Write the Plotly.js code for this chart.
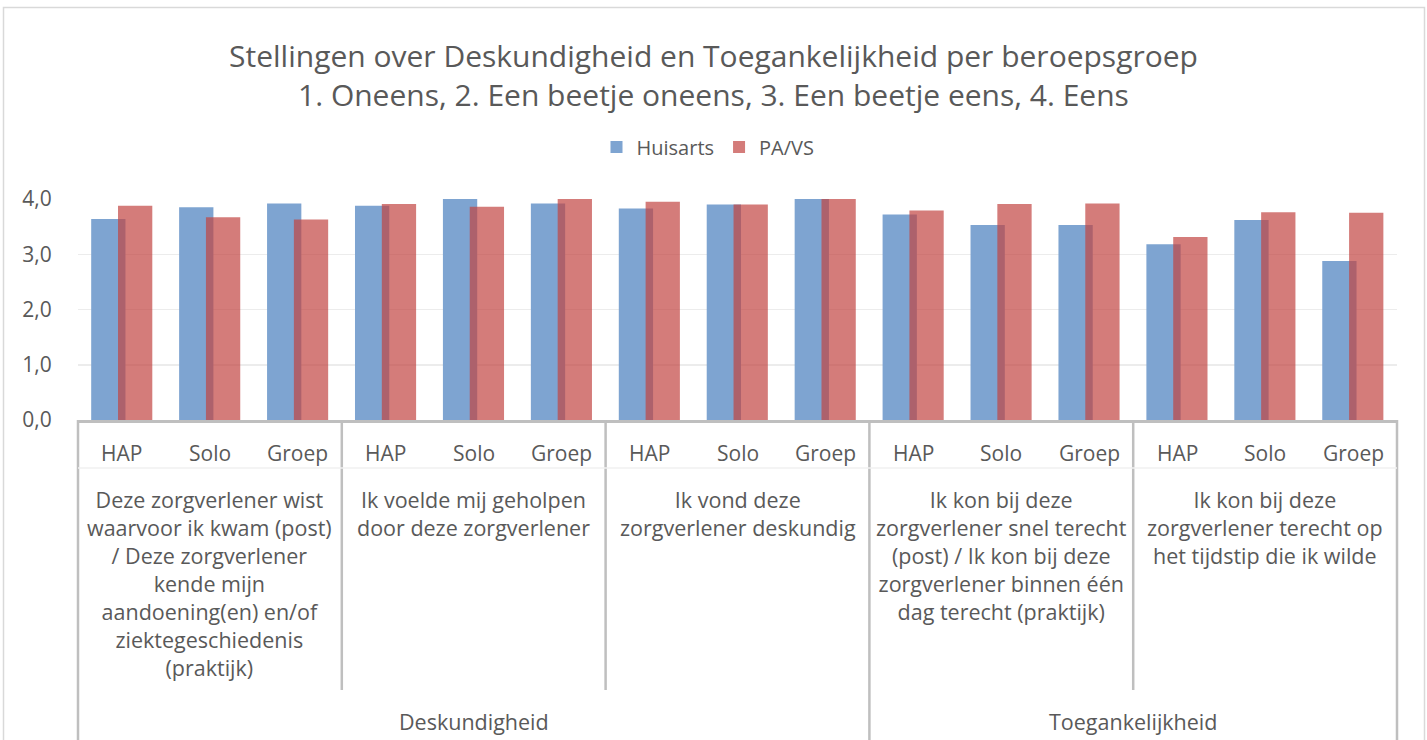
<!DOCTYPE html>
<html><head><meta charset="utf-8">
<script src="https://cdn.plot.ly/plotly-3.0.1.min.js"></script>
<style>html,body{margin:0;padding:0;background:#fff;overflow:hidden}#chart{width:1427px;height:740px}</style>
</head><body><div id="chart"></div>
<script>
// ---- data ----
const subcats = ['HAP', 'Solo', 'Groep'];
const questions = [
  'Deze zorgverlener wist<br>waarvoor ik kwam (post)<br>/ Deze zorgverlener<br>kende mijn<br>aandoening(en) en/of<br>ziektegeschiedenis<br>(praktijk)',
  'Ik voelde mij geholpen<br>door deze zorgverlener',
  'Ik vond deze<br>zorgverlener deskundig',
  'Ik kon bij deze<br>zorgverlener snel terecht<br>(post) / Ik kon bij deze<br>zorgverlener binnen één<br>dag terecht (praktijk)',
  'Ik kon bij deze<br>zorgverlener terecht op<br>het tijdstip die ik wilde'
];
const themes = ['Deskundigheid', 'Toegankelijkheid'];
const themeQuestionCounts = [3, 2];
const huisarts = [3.64, 3.85, 3.92, 3.88, 4.00, 3.92, 3.83, 3.90, 4.00, 3.72, 3.53, 3.53, 3.18, 3.62, 2.88];
const paVs     = [3.88, 3.67, 3.63, 3.91, 3.86, 4.00, 3.95, 3.90, 4.00, 3.79, 3.91, 3.92, 3.31, 3.76, 3.75];
const yTicks = [0, 1, 2, 3, 4];
const seriesNames = ['Huisarts', 'PA/VS'];
const titleText = 'Stellingen over Deskundigheid en Toegankelijkheid per beroepsgroep<br>1. Oneens, 2. Een beetje oneens, 3. Een beetje eens, 4. Eens';

// ---- layout helpers (pixel geometry of the plot area) ----
const W = 1427, H = 740;
const L = 78, R = 1397, T = 199, B = 420;
const px2x = p => (p - L) / (R - L);
const py = p => (B - p) / (B - T);
const nCat = huisarts.length;
const xs = huisarts.map((_, i) => i);
const catToPaper = c => (c + 0.5) / nCat;
const txt = '#595959';
const font = 'Open Sans, sans-serif';

const traces = [
  {type: 'bar', name: seriesNames[0], x: xs, y: huisarts, width: 0.39, offset: -0.35,
   marker: {color: 'rgb(126,164,209)', line: {width: 0}}, hoverinfo: 'y'},
  {type: 'bar', name: seriesNames[1], x: xs, y: paVs, width: 0.39, offset: -0.045,
   marker: {color: 'rgba(194,69,65,0.7)', line: {width: 0}}, hoverinfo: 'y'}
];

const annotations = [];
const shapes = [];
// sub-category labels
xs.forEach(i => annotations.push({
  x: i, xref: 'x', y: py(453), yref: 'paper', yanchor: 'middle', xanchor: 'center',
  text: subcats[i % subcats.length], showarrow: false, font: {size: 21, color: txt, family: font}
}));
// question labels
questions.forEach((q, k) => annotations.push({
  x: k * 3 + 1, xref: 'x', y: py(483), yref: 'paper', yanchor: 'top', xanchor: 'center',
  text: q, align: 'center', showarrow: false, font: {size: 21.5, color: txt, family: font}
}));
// theme labels + separators
let start = 0;
const themeBounds = [0];
themes.forEach((t, k) => {
  const n = themeQuestionCounts[k] * subcats.length;
  annotations.push({
    x: start + (n - 1) / 2, xref: 'x', y: py(721), yref: 'paper', yanchor: 'middle', xanchor: 'center',
    text: t, showarrow: false, font: {size: 21.5, color: txt, family: font}
  });
  start += n;
  themeBounds.push(start);
});
for (let q = 0; q <= questions.length; q++) {
  const c = q * subcats.length - 0.5;
  const isTheme = themeBounds.includes(q * subcats.length);
  shapes.push({type: 'line', xref: 'paper', yref: 'paper', x0: catToPaper(c), x1: catToPaper(c),
    y0: py(B), y1: py(isTheme ? 760 : 690), line: {color: '#bfbfbf', width: 2.5}});
}
// faint row separator
shapes.push({type: 'line', xref: 'paper', yref: 'paper', x0: 0, x1: 1, y0: py(468), y1: py(468),
  line: {color: '#f0f0f0', width: 1.5}});
// chart border
shapes.push({type: 'rect', xref: 'paper', yref: 'paper', x0: px2x(3.5), x1: px2x(1424.5),
  y0: py(7.5), y1: py(780), line: {color: '#d9d9d9', width: 1.5}, fillcolor: 'rgba(0,0,0,0)', layer: 'below'});

const layout = {
  width: W, height: H, autosize: false,
  margin: {l: L, r: W - R, t: T, b: H - B, pad: 0},
  paper_bgcolor: '#fff', plot_bgcolor: '#fff',
  separators: ',.',
  barmode: 'overlay',
  font: {family: font, color: txt},
  title: {text: titleText, x: 0.5, xref: 'container', y: 1 - 67 / H, yref: 'container', yanchor: 'middle',
    font: {size: 30, color: txt, family: font}},
  showlegend: true,
  legend: {orientation: 'h', x: px2x(708), xanchor: 'center', y: py(147), yanchor: 'middle',
    font: {size: 20, color: txt, family: font}, itemwidth: 30, traceorder: 'normal'},
  xaxis: {range: [-0.5, nCat - 0.5], showticklabels: false, showgrid: false, zeroline: false,
    showline: true, linecolor: '#bfbfbf', linewidth: 2.5, ticks: '', fixedrange: true},
  yaxis: {range: [0, 4], tickvals: yTicks, tickformat: '.1f', showgrid: true, gridcolor: '#ececec', gridwidth: 1.5,
    zeroline: false, showline: false, ticks: 'outside', ticklen: 21, tickcolor: 'rgba(0,0,0,0)',
    tickfont: {size: 21, color: txt, family: font}, fixedrange: true},
  annotations: annotations,
  shapes: shapes
};

Plotly.newPlot('chart', traces, layout, {displayModeBar: false, staticPlot: true});
</script></body></html>
